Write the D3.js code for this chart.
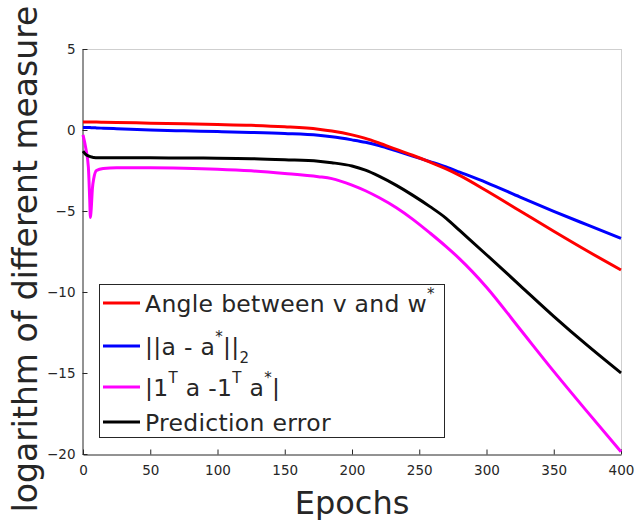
<!DOCTYPE html>
<html>
<head>
<meta charset="utf-8">
<script src="https://cdn.jsdelivr.net/npm/d3@7"></script>
<style>
  body { margin: 0; background: #fff; }
  text { font-family: "DejaVu Sans", sans-serif; fill: #262626; }
</style>
</head>
<body>
<svg id="chart" width="637" height="520"></svg>
<script>
// values (log scale of each measure)
var epochs = [0, 2, 4, 5, 5.5, 6, 7, 8, 10, 15, 25, 50, 75, 100, 125, 150, 175, 185, 200, 210, 220, 233, 245, 258, 270, 280, 300, 325, 350, 375, 400]

var angleVals = [0.5, 0.5, 0.5, 0.5, 0.5, 0.5, 0.5, 0.5, 0.49, 0.48, 0.47, 0.42, 0.38, 0.34, 0.29, 0.2, 0.05, -0.06, -0.3, -0.52, -0.8, -1.2, -1.56, -1.98, -2.4, -2.8, -3.75, -5.0, -6.25, -7.47, -8.64]
var normVals = [0.15, 0.15, 0.15, 0.15, 0.15, 0.14, 0.14, 0.14, 0.13, 0.11, 0.08, 0.0, -0.05, -0.1, -0.15, -0.22, -0.33, -0.42, -0.61, -0.76, -0.96, -1.29, -1.61, -1.95, -2.28, -2.6, -3.25, -4.14, -5.02, -5.86, -6.69]
var sumVals = [-0.3, -1.1, -2.3, -4.3, -5.4, -5.0, -3.6, -3.0, -2.5, -2.37, -2.33, -2.33, -2.36, -2.42, -2.52, -2.68, -2.88, -3.0, -3.4, -3.75, -4.17, -4.8, -5.5, -6.36, -7.2, -7.95, -9.7, -12.3, -14.9, -17.4, -19.86]
var predVals = [-1.3, -1.5, -1.6, -1.63, -1.65, -1.66, -1.68, -1.7, -1.71, -1.72, -1.72, -1.72, -1.73, -1.74, -1.77, -1.84, -1.93, -2.02, -2.22, -2.48, -2.85, -3.42, -4.02, -4.73, -5.45, -6.2, -7.7, -9.6, -11.5, -13.3, -15.0]

var xTicks = [0, 50, 100, 150, 200, 250, 300, 350, 400]
var yTicks = [-20, -15, -10, -5, 0, 5]

// legend entries: pieces of text, with 'sup' / 'sub' for raised / lowered bits
var seriesNames = [
  [['Angle between v and w'], ['*', 'sup']],
  [['||a - a'], ['*', 'sup'], ['||'], ['2', 'sub']],
  [['|1'], ['T', 'sup'], [' a -1'], ['T', 'sup'], [' a'], ['*', 'sup'], ['|']],
  [['Prediction error']]
]
var seriesColors = ['#ff0000', '#0000ff', '#ff00ff', '#000000']
var seriesValues = [angleVals, normVals, sumVals, predVals]

var svg = d3.select('#chart')

// plot box (window.top is reserved, so no bare "top")
var box = { left: 83, right: 621, top: 49, bottom: 454 }

var x = d3.scaleLinear().domain([0, 400]).range([box.left, box.right])
var y = d3.scaleLinear().domain([-20, 5]).range([box.bottom, box.top])

// light box on top and right
svg.append('line')
  .attr('x1', box.left).attr('x2', box.right)
  .attr('y1', box.top + 0.5).attr('y2', box.top + 0.5)
  .attr('stroke', '#cfcfcf')
svg.append('line')
  .attr('x1', box.right + 0.5).attr('x2', box.right + 0.5)
  .attr('y1', box.top).attr('y2', box.bottom)
  .attr('stroke', '#cfcfcf')

svg.append('g')
  .attr('transform', 'translate(0,' + (box.bottom + 0.5) + ')')
  .call(d3.axisBottom(x).tickValues(xTicks).tickSizeInner(-5).tickSizeOuter(0).tickPadding(11))
svg.append('g')
  .attr('transform', 'translate(' + (box.left - 0.5) + ',0)')
  .call(d3.axisLeft(y).tickValues(yTicks).tickSizeInner(-5).tickSizeOuter(0).tickPadding(7))

svg.selectAll('.domain, .tick line').attr('stroke', '#262626')
svg.selectAll('.tick text')
  .attr('font-family', 'DejaVu Sans')
  .attr('font-size', 13.5)
  .attr('fill', '#3a3a3a')

var line = d3.line()
  .x(function (d, i) { return x(epochs[i]) })
  .y(function (d) { return y(d) })
  .curve(d3.curveMonotoneX)

// draw order: magenta, black, blue, red
;[2, 3, 1, 0].forEach(function (k) {
  svg.append('path')
    .datum(seriesValues[k])
    .attr('d', line)
    .attr('fill', 'none')
    .attr('stroke', seriesColors[k])
    .attr('stroke-width', 3)
    .attr('stroke-linejoin', 'round')
})

svg.append('text')
  .attr('x', (box.left + box.right) / 2)
  .attr('y', 514)
  .attr('text-anchor', 'middle')
  .attr('font-size', 32)
  .text('Epochs')

svg.append('text')
  .attr('transform', 'translate(37,259) rotate(-90)')
  .attr('text-anchor', 'middle')
  .attr('font-size', 33)
  .text('logarithm of different measure')

// legend
var legend = svg.append('g')
legend.append('rect')
  .attr('x', 99.5).attr('y', 284.5)
  .attr('width', 345).attr('height', 153)
  .attr('fill', '#fff')
  .attr('stroke', '#262626')

var rowY = [303, 346, 387, 422]
seriesNames.forEach(function (parts, i) {
  legend.append('line')
    .attr('x1', 103).attr('x2', 140)
    .attr('y1', rowY[i]).attr('y2', rowY[i])
    .attr('stroke', seriesColors[i])
    .attr('stroke-width', 3)

  var t = legend.append('text')
    .attr('x', 145)
    .attr('y', rowY[i] + 9)
    .attr('font-size', 23.5)
    .attr('letter-spacing', 0.3)

  var shift = 0
  parts.forEach(function (p) {
    var want = p[1] === 'sup' ? -13 : p[1] === 'sub' ? 8 : 0
    t.append('tspan')
      .attr('dy', want - shift)
      .attr('font-size', p[1] ? 15 : 23.5)
      .text(p[0])
    shift = want
  })
})
</script>
</body>
</html>
